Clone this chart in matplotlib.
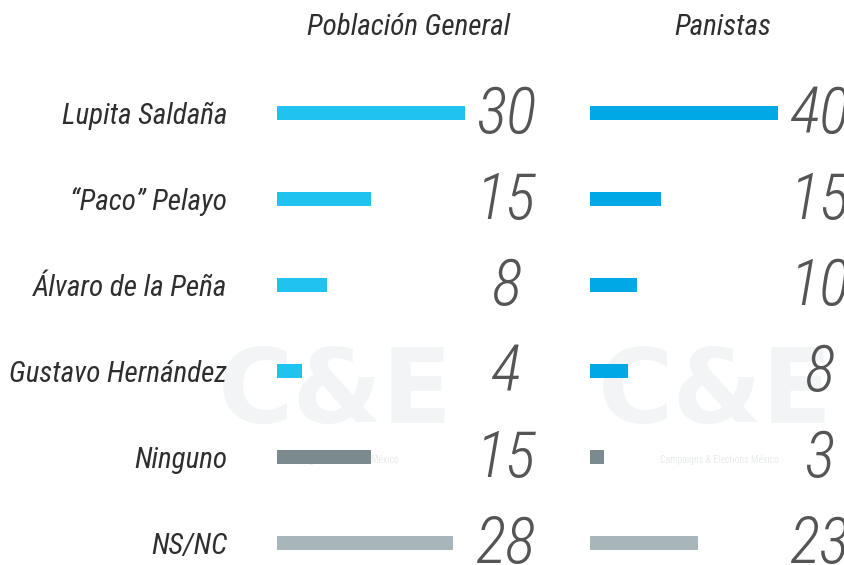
import matplotlib
matplotlib.use("Agg")
import matplotlib.pyplot as plt

# =========================
# DATA
# =========================
candidates = ["Lupita Saldaña", "\u201cPaco\u201d Pelayo", "Álvaro de la Peña",
              "Gustavo Hernández", "Ninguno", "NS/NC"]
general = [30, 15, 8, 4, 15, 28]
panistas = [40, 15, 10, 8, 3, 23]
panel_titles = ["Población General", "Panistas"]

# =========================
# STYLE
# =========================
FONT = ["Roboto Condensed", "Liberation Sans Narrow", "DejaVu Sans"]
plt.rcParams["font.family"] = FONT

W, H = 844, 565
DPI = 100
ROW_PX = 86
TOP_PX = 70

general_colors = ["#1ec3ee"] * 4 + ["#7b8a8e", "#a8b6bb"]
panistas_colors = ["#00a8e6"] * 4 + ["#7b8a8e", "#a8b6bb"]

fig = plt.figure(figsize=(W / DPI, H / DPI), dpi=DPI)
fig.patch.set_facecolor("white")

# faint watermarks, behind everything
bg = fig.add_axes([0, 0, 1, 1], zorder=-10)
bg.set_xlim(0, W)
bg.set_ylim(H, 0)
bg.axis("off")
for wx, wy in [(335, 395), (715, 395)]:
    bg.text(wx, wy, "C&E", fontsize=74, fontweight="bold", color="#f3f4f5",
            ha="center", va="center", family="DejaVu Sans")
for wx in [340, 720]:
    bg.text(wx, 460, "Campaigns & Elections México", fontsize=7,
            color="#e8eaeb", ha="center", va="center")


def make_panel(left_px, px_per_unit, xmax):
    width_px = px_per_unit * xmax
    height_px = H - TOP_PX
    ax = fig.add_axes([left_px / W, 0, width_px / W, height_px / H], zorder=1)
    ax.set_xlim(0, xmax)
    ax.set_ylim(-0.5 + height_px / ROW_PX, -0.5)
    ax.patch.set_alpha(0)
    for s in ax.spines.values():
        s.set_visible(False)
    ax.set_xticks([])
    ax.tick_params(axis="y", length=0)
    return ax


y = list(range(len(candidates)))

ax1 = make_panel(277, 6.27, 40)
ax1.barh(y, general, height=0.165, color=general_colors, zorder=2)
ax1.set_yticks(y)
ax1.set_yticklabels(candidates, fontsize=21, fontstyle="italic",
                    color="#2e2e2e")
ax1.tick_params(axis="y", pad=36)

ax2 = make_panel(590, 4.7, 50)
ax2.barh(y, panistas, height=0.165, color=panistas_colors, zorder=2)
ax2.set_yticks([])

# value labels
for ax, vals, xc in [(ax1, general, 36.6), (ax2, panistas, 48.9)]:
    for i, v in enumerate(vals):
        ax.text(xc, i + 0.03, str(v), ha="center", va="center", fontsize=46,
                fontstyle="italic", fontweight="light", color="#555555",
                clip_on=False)

# panel titles
fig.text(409 / W, 1 - 27 / H, panel_titles[0], ha="center", va="center",
         fontsize=21, fontstyle="italic", color="#2e2e2e")
fig.text(723 / W, 1 - 27 / H, panel_titles[1], ha="center", va="center",
         fontsize=21, fontstyle="italic", color="#2e2e2e")

fig.savefig("out.png", dpi=DPI)
